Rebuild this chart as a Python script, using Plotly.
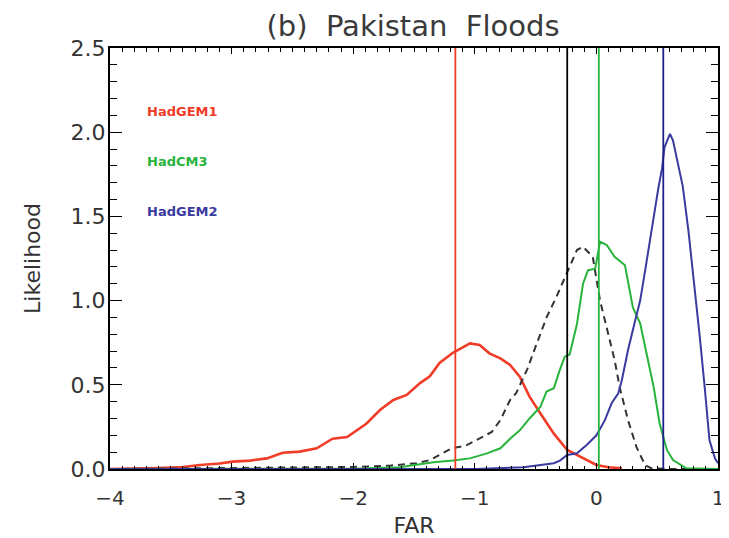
import plotly.graph_objects as go

# ---- data ----
red_x = [-4.0, -3.8, -3.6, -3.4, -3.26, -3.1, -2.99, -2.85, -2.71, -2.58, -2.44, -2.30, -2.17, -2.05,
         -1.97, -1.89, -1.78, -1.67, -1.56, -1.45, -1.37, -1.29, -1.18, -1.10, -1.04, -0.96, -0.88,
         -0.79, -0.71, -0.63, -0.55, -0.46, -0.35, -0.24, -0.13, 0.0, 0.1, 0.21]
red_y = [0.0, 0.002, 0.006, 0.012, 0.024, 0.033, 0.044, 0.05, 0.063, 0.097, 0.103, 0.123, 0.18, 0.19,
         0.23, 0.27, 0.35, 0.41, 0.44, 0.51, 0.55, 0.63, 0.69, 0.72, 0.746, 0.736, 0.687,
         0.657, 0.618, 0.548, 0.43, 0.33, 0.21, 0.113, 0.073, 0.024, 0.01, 0.004]

black_x = [-4.0, -3.5, -3.0, -2.5, -2.0, -1.7, -1.48, -1.37, -1.34, -1.19, -1.07, -0.97, -0.86, -0.79,
           -0.71, -0.66, -0.57, -0.49, -0.41, -0.33, -0.24, -0.16, -0.11, -0.03, 0.03, 0.085, 0.15,
           0.19, 0.26, 0.33, 0.40, 0.45, 0.6, 1.0]
black_y = [0.0, 0.004, 0.006, 0.008, 0.012, 0.02, 0.034, 0.053, 0.064, 0.123, 0.14, 0.18, 0.22, 0.29,
           0.41, 0.45, 0.59, 0.746, 0.90, 1.02, 1.17, 1.30, 1.32, 1.26, 1.0, 0.845, 0.647,
           0.49, 0.29, 0.13, 0.024, 0.005, 0.0, 0.0]

green_x = [-4.0, -3.0, -2.0, -1.62, -1.45, -1.34, -1.18, -1.04, -0.90, -0.79, -0.71, -0.63, -0.55,
           -0.46, -0.41, -0.35, -0.30, -0.26, -0.22, -0.16, -0.11, -0.07, -0.01, 0.03, 0.085, 0.15,
           0.235, 0.30, 0.36, 0.41, 0.47, 0.52, 0.58, 0.63, 0.74, 1.0]
green_y = [0.0, 0.0, 0.002, 0.01, 0.03, 0.04, 0.05, 0.063, 0.093, 0.123, 0.18, 0.23, 0.30,
           0.37, 0.46, 0.48, 0.59, 0.667, 0.68, 0.86, 1.10, 1.18, 1.19, 1.35, 1.33, 1.26,
           1.21, 0.96, 0.865, 0.687, 0.49, 0.27, 0.113, 0.053, 0.004, 0.0]

blue_x = [-4.0, -1.0, -0.6, -0.46, -0.35, -0.30, -0.24, -0.16, -0.08, 0.0, 0.07, 0.125, 0.18, 0.21,
          0.26, 0.32, 0.36, 0.41, 0.47, 0.51, 0.54, 0.56, 0.605, 0.63, 0.67, 0.71, 0.756, 0.80,
          0.85, 0.89, 0.93, 0.975, 1.0]
blue_y = [0.0, 0.0, 0.01, 0.024, 0.034, 0.05, 0.083, 0.093, 0.143, 0.20, 0.29, 0.39, 0.45, 0.53,
          0.707, 0.885, 1.0, 1.22, 1.50, 1.67, 1.785, 1.91, 1.99, 1.95, 1.815, 1.68, 1.42, 1.14,
          0.786, 0.49, 0.17, 0.063, 0.034]

vline_x = [-1.16, -0.24, 0.02, 0.55]
vline_colors = ["#f03c28", "#000000", "#28b43c", "#20208c"]

model_names = ["HadGEM1", "HadCM3", "HadGEM2"]
model_label_y = [2.125, 1.825, 1.528]
model_colors = ["#f03c28", "#28b43c", "#3a3aa0"]

FONT = "DejaVu Sans"
TXT = "#333333"

# the page body has an 8px default margin; size the figure so it ends at the window edge
PAGE_OFF = 8
W, H = 729 - PAGE_OFF, 538 - PAGE_OFF

fig = go.Figure()

fig.add_trace(go.Scatter(x=red_x, y=red_y, mode="lines",
                         line=dict(color="#f03c28", width=2.6), showlegend=False))
fig.add_trace(go.Scatter(x=black_x, y=black_y, mode="lines",
                         line=dict(color="#333333", width=2, dash="7px,5px"), showlegend=False))
fig.add_trace(go.Scatter(x=green_x, y=green_y, mode="lines",
                         line=dict(color="#28b43c", width=2), showlegend=False))
fig.add_trace(go.Scatter(x=blue_x, y=blue_y, mode="lines",
                         line=dict(color="#3a3aa0", width=2), showlegend=False))

for vx, vc in zip(vline_x, vline_colors):
    fig.add_trace(go.Scatter(x=[vx, vx], y=[0, 2.5], mode="lines",
                             line=dict(color=vc, width=1.8), showlegend=False))

for name, ly, c in zip(model_names, model_label_y, model_colors):
    fig.add_annotation(x=-3.71, y=ly, xref="x", yref="y", text=name, showarrow=False,
                       xanchor="left", yanchor="middle",
                       font=dict(family=FONT, size=13, color=c, weight="bold"))

fig.update_layout(
    width=W, height=H,
    margin=dict(l=110 - PAGE_OFF, r=11, t=48 - PAGE_OFF, b=69),
    paper_bgcolor="white", plot_bgcolor="white",
    title=dict(text="(b)  Pakistan  Floods", x=405 / W, xanchor="center",
               yref="container", y=1 - 18 / H, yanchor="middle",
               font=dict(family=FONT, size=29, color="#3a3a3a")),
    font=dict(family=FONT, color=TXT),
)

fig.update_xaxes(
    range=[-4, 1], tickmode="linear", tick0=-4, dtick=1, automargin=False,
    showgrid=False, zeroline=False,
    showline=True, linecolor="black", linewidth=2, mirror="allticks",
    ticks="inside", ticklen=6, tickwidth=1.2, tickcolor="black",
    minor=dict(dtick=0.1, ticks="inside", ticklen=3.5, tickwidth=1, tickcolor="black"),
    tickfont=dict(family=FONT, size=20, color=TXT), ticklabelstandoff=10,
    title=dict(text="FAR", font=dict(family=FONT, size=22, color=TXT), standoff=12),
)
fig.update_yaxes(
    range=[0, 2.5], tickmode="linear", tick0=0, dtick=0.5, tickformat=".1f", automargin=False,
    showgrid=False, zeroline=False,
    showline=True, linecolor="black", linewidth=2, mirror="allticks",
    ticks="inside", ticklen=12, tickwidth=1.2, tickcolor="black",
    minor=dict(dtick=0.1, ticks="inside", ticklen=7, tickwidth=1, tickcolor="black"),
    tickfont=dict(family=FONT, size=22, color=TXT), ticklabelstandoff=-2,
    title=dict(text="Likelihood", font=dict(family=FONT, size=22, color=TXT), standoff=24),
)

fig.write_html("out.html")
